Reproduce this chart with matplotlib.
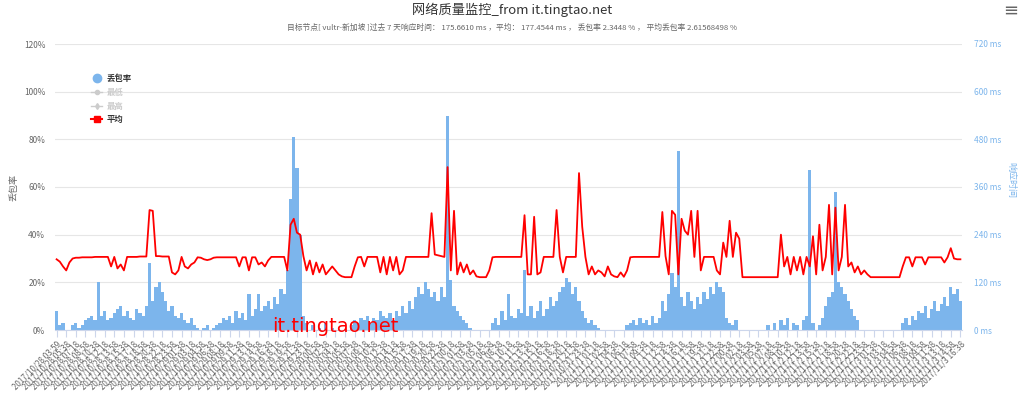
import matplotlib
matplotlib.use("Agg")
import matplotlib.pyplot as plt
from matplotlib.lines import Line2D
import pandas as pd

plt.rcParams['font.family'] = ['Noto Sans CJK SC', 'DejaVu Sans']

title = "网络质量监控_from it.tingtao.net"
subtitle = ("目标节点[ vultr-新加坡 ]过去 7 天响应时间： 175.6610 ms ，平均： 177.4544 ms ， "
            "丢包率 2.3448 % ， 平均丢包率 2.61568498 %")
watermark = "it.tingtao.net"

# tick labels: every 100 minutes from 2017/10/28 03:58
label_start = "2017-10-28 03:58"
label_count = 95
label_step = "100min"
times = pd.date_range(label_start, periods=label_count, freq=label_step)
tick_labels = [f"{t.year}/{t.month}/{t.day} {t.hour:02d}:{t.minute:02d}" for t in times]
tick_labels[0] = "2017/10/28 03:59"
points_per_label = 3

# average response time (ms)
latency = [
    178, 172, 160, 150, 170, 180, 182, 182, 183, 183,
    183, 183, 184, 184, 184, 184, 184, 160, 184, 155,
    165, 150, 184, 184, 184, 184, 185, 185, 185, 302,
    300, 186, 186, 185, 185, 185, 145, 140, 150, 184,
    160, 155, 165, 170, 183, 182, 178, 176, 178, 182,
    183, 183, 183, 183, 183, 183, 183, 160, 183, 183,
    150, 183, 183, 165, 170, 160, 175, 184, 184, 184,
    184, 184, 150, 265, 280, 245, 240, 186, 150, 175,
    140, 170, 145, 165, 140, 150, 160, 150, 140, 135,
    133, 133, 133, 160, 183, 184, 160, 184, 184, 184,
    184, 145, 184, 140, 184, 150, 184, 140, 150, 184,
    184, 184, 184, 184, 184, 184, 184, 294, 190, 188,
    186, 184, 410, 150, 300, 140, 170, 145, 165, 140,
    150, 135, 133, 133, 133, 150, 183, 184, 184, 184,
    184, 184, 184, 184, 184, 184, 289, 140, 140, 285,
    140, 145, 184, 184, 184, 184, 302, 184, 145, 184,
    184, 184, 184, 395, 260, 184, 140, 160, 140, 150,
    145, 135, 160, 140, 135, 133, 145, 134, 150, 183,
    184, 184, 184, 184, 184, 184, 184, 184, 184, 297,
    186, 140, 300, 290, 140, 280, 250, 240, 300, 184,
    300, 150, 184, 184, 184, 184, 150, 140, 220, 184,
    275, 184, 245, 230, 133, 133, 133, 133, 133, 133,
    133, 133, 133, 133, 133, 133, 240, 160, 184, 140,
    184, 150, 184, 140, 184, 160, 236, 140, 265, 150,
    184, 315, 140, 308, 150, 184, 315, 160, 170, 145,
    160, 140, 150, 140, 133, 133, 133, 133, 133, 133,
    133, 133, 133, 133, 160, 183, 183, 160, 183, 183,
    183, 165, 183, 183, 183, 183, 183, 170, 183, 206,
    180, 178, 178,
]

# packet loss (%)
loss = [
    8, 2, 3, 0, 0, 2, 3, 1, 2, 4,
    5, 6, 4, 20, 6, 8, 4, 5, 7, 9,
    10, 6, 8, 5, 4, 9, 7, 6, 10, 28,
    12, 18, 20, 16, 12, 8, 10, 6, 5, 7,
    4, 3, 5, 2, 1, 0, 1, 2, 0, 1,
    2, 3, 5, 4, 6, 3, 8, 5, 7, 4,
    15, 6, 9, 15, 8, 10, 12, 9, 14, 11,
    17, 15, 25, 55, 81, 68, 40, 6, 3, 0,
    2, 0, 1, 0, 3, 0, 1, 0, 0, 0,
    0, 0, 2, 4, 3, 5, 4, 6, 3, 5,
    4, 8, 6, 5, 7, 4, 8, 6, 10, 7,
    12, 9, 14, 18, 15, 20, 17, 14, 16, 12,
    18, 14, 90, 21, 10, 8, 6, 4, 3, 1,
    0, 0, 0, 0, 0, 0, 3, 5, 2, 8,
    4, 15, 6, 5, 9, 7, 25, 6, 10, 5,
    8, 12, 6, 9, 14, 10, 12, 16, 18, 22,
    20, 15, 18, 12, 8, 5, 3, 4, 2, 1,
    0, 0, 0, 0, 0, 0, 0, 0, 2, 3,
    4, 2, 5, 3, 4, 2, 6, 3, 5, 12,
    8, 15, 24, 18, 75, 14, 10, 16, 12, 9,
    14, 11, 16, 13, 18, 15, 20, 18, 16, 5,
    3, 2, 4, 0, 0, 0, 0, 0, 0, 0,
    0, 0, 2, 0, 3, 0, 4, 2, 5, 0,
    3, 2, 0, 4, 6, 67, 3, 0, 2, 5,
    10, 14, 16, 58, 20, 18, 15, 12, 9, 6,
    4, 0, 0, 0, 0, 0, 0, 0, 0, 0,
    0, 0, 0, 0, 3, 5, 2, 6, 4, 8,
    7, 10, 5, 9, 12, 8, 11, 14, 10, 18,
    15, 17, 12,
]

left_ticks = [0, 20, 40, 60, 80, 100, 120]
right_ticks = [0, 120, 240, 360, 480, 600, 720]

BLUE = '#7cb5ec'
GRID = '#e6e6e6'
TXT = '#666666'

fig = plt.figure(figsize=(10.24, 3.96), dpi=100)
ax = fig.add_axes([55/1024, 1-330/396, 907/1024, 286/396])
ax2 = ax.twinx()

x = list(range(len(loss)))
ax.bar(x, loss, width=1.0, color=BLUE, linewidth=0, zorder=2)
ax2.plot(x, latency, color='#ff0000', lw=1.3, zorder=3)

ax.set_xlim(-0.5, len(loss) - 0.5)
ax.set_ylim(0, 120)
ax2.set_ylim(0, 720)
ax.set_yticks(left_ticks)
ax.set_yticklabels([f"{v}%" for v in left_ticks], color=TXT, fontsize=6)
ax2.set_yticks(right_ticks)
ax2.set_yticklabels([f"{v} ms" for v in right_ticks], color=BLUE, fontsize=6)
ax.yaxis.grid(True, color=GRID, lw=0.8, zorder=0)
ax.set_axisbelow(True)

tick_pos = [k * points_per_label for k in range(label_count)]
ax.set_xticks(tick_pos)
ax.set_xticklabels(tick_labels, rotation=45, ha='right', rotation_mode='anchor',
                   fontsize=5.8, color=TXT)
ax.tick_params(axis='x', length=5, color='#ccd6eb', pad=2)
ax.tick_params(axis='y', length=0, pad=7)
ax2.tick_params(axis='y', length=0, pad=9)
for a in (ax, ax2):
    for s in ('top', 'left', 'right'):
        a.spines[s].set_visible(False)
ax2.spines['bottom'].set_visible(False)
ax.spines['bottom'].set_color('#ccd6eb')

fig.text(512/1024, 1-10/396, title, ha='center', va='center', fontsize=9.5, color='#333333')
fig.text(512/1024, 1-28/396, subtitle, ha='center', va='center', fontsize=5.6, color=TXT)
fig.text(14/1024, 1-188/396, "丢包率", rotation=90, ha='center', va='center', fontsize=6.5, color=TXT)
fig.text(1011/1024, 1-180/396, "响应时间", rotation=270, ha='center', va='center', fontsize=6.5, color=BLUE)
fig.text(272/1024, 1-327/396, watermark, ha='left', va='center', fontsize=14,
         color='#ff0000', family='DejaVu Sans')
fig.text(1011/1024, 1-11/396, "≡", ha='center', va='center', fontsize=13, color='#666666',
         family='DejaVu Sans')

handles = [
    Line2D([], [], color=BLUE, marker='o', ls='none', markersize=6),
    Line2D([], [], color='#cccccc', marker='o', lw=1, markersize=3),
    Line2D([], [], color='#cccccc', marker='d', lw=1, markersize=3),
    Line2D([], [], color='#ff0000', marker='s', lw=1.5, markersize=4),
]
leg = fig.legend(handles, ["丢包率", "最低", "最高", "平均"], loc='upper left',
                 bbox_to_anchor=(88/1024, 1-71/396), frameon=False, fontsize=6,
                 handlelength=1.3, handletextpad=0.5, labelspacing=0.55, borderaxespad=0)
for t, c in zip(leg.get_texts(), ['#333333', '#cccccc', '#cccccc', '#333333']):
    t.set_color(c)
    t.set_fontweight('bold')

fig.savefig("out.png", dpi=100)
